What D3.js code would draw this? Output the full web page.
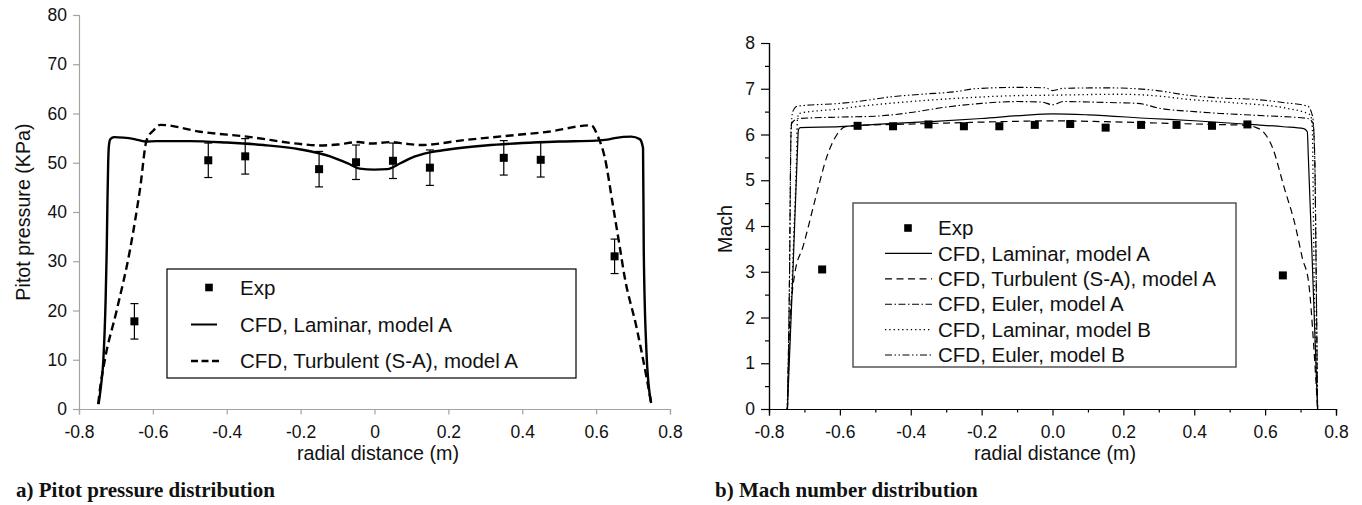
<!DOCTYPE html>
<html>
<head>
<meta charset="utf-8">
<script src="https://cdn.jsdelivr.net/npm/d3@7"></script>
<style>
  body { margin: 0; background: #fff; }
  svg text { font-family: "Liberation Sans", Arial, sans-serif; fill: #111; }
  svg text.caption { font-family: "Liberation Serif", "Times New Roman", serif; font-weight: bold; }
</style>
</head>
<body>
<svg id="chart" width="1362" height="505"></svg>
<script>
// ---- data ----
const xTicks = [-0.8, -0.6, -0.4, -0.2, 0, 0.2, 0.4, 0.6, 0.8]
const pitotTicks = [0, 10, 20, 30, 40, 50, 60, 70, 80]
const machTicks = [0, 1, 2, 3, 4, 5, 6, 7, 8]

// a) pitot pressure (KPa)
const pitotExpX = [-0.65, -0.45, -0.35, -0.15, -0.05, 0.05, 0.15, 0.35, 0.45, 0.65]
const pitotExpY = [17.8, 50.5, 51.3, 48.7, 50.1, 50.4, 49.0, 51.0, 50.6, 31.0]
const pitotExpErr = [3.6, 3.5, 3.6, 3.6, 3.5, 3.6, 3.6, 3.5, 3.5, 3.5]

const pitotLaminar = [
  [-0.747, 1], [-0.74, 5], [-0.734, 10], [-0.728, 22], [-0.725, 32], [-0.723, 42],
  [-0.721, 50], [-0.719, 53.5], [-0.715, 54.8], [-0.705, 55.2], [-0.68, 55.1],
  [-0.65, 54.8], [-0.62, 54.3], [-0.59, 54.4], [-0.5, 54.4], [-0.4, 54.1],
  [-0.3, 53.6], [-0.2, 52.7], [-0.12, 51.3], [-0.07, 49.8], [-0.04, 48.8],
  [0.0, 48.6], [0.035, 48.7], [0.07, 49.9], [0.1, 51.0], [0.15, 52.1],
  [0.2, 52.7], [0.3, 53.5], [0.4, 54.0], [0.5, 54.3], [0.6, 54.5], [0.63, 54.7],
  [0.65, 55.0], [0.695, 55.3], [0.718, 54.8], [0.727, 53.0], [0.729, 32],
  [0.736, 12], [0.742, 5], [0.749, 1.2]
]
const pitotTurbulent = [
  [-0.748, 1], [-0.745, 3], [-0.73, 10], [-0.698, 20], [-0.662, 32.3],
  [-0.634, 45.1], [-0.617, 54.6], [-0.598, 56.6], [-0.58, 57.7], [-0.472, 56.3],
  [-0.345, 55.3], [-0.2, 53.8], [-0.146, 53.5], [-0.1, 53.7], [-0.045, 54.2],
  [-0.01, 53.9], [0.044, 54.2], [0.08, 53.9], [0.125, 53.6], [0.242, 54.6],
  [0.35, 55.4], [0.47, 56.3], [0.587, 57.6], [0.605, 55.3], [0.623, 51.2],
  [0.646, 41.1], [0.664, 32.9], [0.677, 26.9], [0.709, 16.7], [0.736, 6.6],
  [0.749, 1.2]
]

// b) Mach number
const machExpX = [-0.65, -0.55, -0.45, -0.35, -0.25, -0.15, -0.05, 0.05, 0.15, 0.25, 0.35, 0.45, 0.55, 0.65]
const machExpY = [3.05, 6.19, 6.18, 6.22, 6.18, 6.18, 6.21, 6.23, 6.15, 6.21, 6.21, 6.19, 6.22, 2.92]

const machLaminarA = [
  [-0.748, 0], [-0.732, 3.1], [-0.72, 5.6], [-0.717, 6.1], [-0.712, 6.15],
  [-0.6, 6.17], [-0.5, 6.22], [-0.35, 6.28], [-0.2, 6.35], [-0.08, 6.42],
  [0.0, 6.45], [0.1, 6.43], [0.276, 6.35], [0.4, 6.3], [0.559, 6.22],
  [0.652, 6.17], [0.709, 6.13], [0.719, 6.06], [0.722, 5.5], [0.735, 2.8], [0.748, 0]
]
const machTurbulentA = [
  [-0.748, 0], [-0.743, 1.6], [-0.735, 2.5], [-0.727, 2.97], [-0.704, 3.55],
  [-0.665, 4.72], [-0.637, 5.51], [-0.609, 5.99], [-0.585, 6.17], [-0.55, 6.2],
  [-0.45, 6.22], [-0.3, 6.25], [-0.15, 6.28], [0.0, 6.3], [0.15, 6.28],
  [0.3, 6.25], [0.45, 6.22], [0.55, 6.2], [0.575, 6.15], [0.592, 6.08],
  [0.62, 5.73], [0.653, 4.86], [0.686, 3.98], [0.705, 3.3], [0.723, 2.75],
  [0.737, 1.4], [0.748, 0]
]
const machEulerA = [
  [-0.748, 0], [-0.742, 3.0], [-0.739, 5.5], [-0.737, 6.22], [-0.73, 6.3],
  [-0.715, 6.35], [-0.6, 6.38], [-0.5, 6.4], [-0.4, 6.48], [-0.3, 6.6],
  [-0.2, 6.68], [-0.1, 6.72], [-0.03, 6.71], [0.0, 6.65], [0.03, 6.72],
  [0.15, 6.7], [0.24, 6.68], [0.305, 6.57], [0.4, 6.5], [0.474, 6.46],
  [0.6, 6.41], [0.72, 6.35], [0.735, 6.25], [0.74, 5.5], [0.744, 3], [0.748, 0]
]
const machLaminarB = [
  [-0.749, 0], [-0.74, 1.8], [-0.73, 3.8], [-0.722, 5.6], [-0.72, 6.3],
  [-0.716, 6.46], [-0.6, 6.56], [-0.55, 6.61], [-0.4, 6.72], [-0.25, 6.8],
  [-0.1, 6.85], [0.0, 6.86], [0.19, 6.88], [0.3, 6.84], [0.38, 6.77],
  [0.5, 6.7], [0.663, 6.57], [0.728, 6.43], [0.733, 6.17], [0.738, 3], [0.749, 0]
]
const machEulerB = [
  [-0.748, 0], [-0.742, 3], [-0.738, 6.0], [-0.733, 6.5], [-0.72, 6.62],
  [-0.6, 6.68], [-0.55, 6.72], [-0.46, 6.82], [-0.37, 6.88], [-0.27, 6.94],
  [-0.22, 7.0], [-0.1, 7.03], [-0.02, 7.02], [0.0, 6.96], [0.03, 7.01],
  [0.15, 7.02], [0.285, 6.97], [0.38, 6.86], [0.47, 6.8], [0.567, 6.77],
  [0.65, 6.7], [0.72, 6.62], [0.734, 6.39], [0.74, 5.5], [0.744, 3], [0.748, 0]
]

const pitotLegend = ["Exp", "CFD, Laminar, model A", "CFD, Turbulent (S-A), model A"]
const machLegend = ["Exp", "CFD, Laminar, model A", "CFD, Turbulent (S-A), model A",
  "CFD, Euler, model A", "CFD, Laminar, model B", "CFD, Euler, model B"]

// ---- drawing ----
const DASH = {
  PITOT_TURB: "8,4.5",
  TURB: "7,4.5",
  EULER_A: "7,2.5,1.5,2.5",
  LAMINAR_B: "1.3,3",
  EULER_B: "7,2.5,1.5,2.5,1.5,2.5"
}
const TICK_FONT = "17.5px", TITLE_FONT = "19.7px", LEGEND_FONT = "20.5px"

const svg = d3.select("#chart")
const fmtA = d => String(+d.toFixed(1))
const fmtB = d => d.toFixed(1)

function styleAxis(g, color) {
  g.select(".domain").attr("stroke", color).attr("stroke-width", 1.2)
  g.selectAll(".tick line").attr("stroke", color).attr("stroke-width", 1.2)
  g.selectAll(".tick text").style("font-size", TICK_FONT)
}

function drawSquares(g, xs, ys, x, y, size) {
  g.selectAll(null)
    .data(xs.map((d, i) => [d, ys[i]]))
    .enter().append("rect")
    .attr("x", d => x(d[0]) - size / 2)
    .attr("y", d => y(d[1]) - size / 2)
    .attr("width", size)
    .attr("height", size)
    .attr("fill", "#000")
}

// ============ a) Pitot pressure ============
const xA = d3.scaleLinear().domain([-0.8, 0.8]).range([79, 670])
const yA = d3.scaleLinear().domain([0, 80]).range([409, 15])
const gA = svg.append("g")

gA.append("g")
  .attr("transform", "translate(0,409)")
  .call(d3.axisBottom(xA).tickValues(xTicks).tickFormat(fmtA).tickSizeOuter(0).tickSize(5.5).tickPadding(11.5))
  .call(g => styleAxis(g, "#a3a3a3"))

gA.append("g")
  .attr("transform", "translate(79,0)")
  .call(d3.axisLeft(yA).tickValues(pitotTicks).tickSizeOuter(0).tickSize(6).tickPadding(6))
  .call(g => styleAxis(g, "#a3a3a3"))

const lineA = d3.line().x(d => xA(d[0])).y(d => yA(d[1])).curve(d3.curveMonotoneX)

gA.append("path").datum(pitotLaminar)
  .attr("d", lineA).attr("fill", "none").attr("stroke", "#000").attr("stroke-width", 2.4)
gA.append("path").datum(pitotTurbulent)
  .attr("d", lineA).attr("fill", "none").attr("stroke", "#000").attr("stroke-width", 2.4)
  .attr("stroke-dasharray", DASH.PITOT_TURB)

// error bars
const errA = gA.append("g").attr("stroke", "#000").attr("stroke-width", 1.2)
pitotExpX.forEach((xv, i) => {
  const px = xA(xv), lo = yA(pitotExpY[i] - pitotExpErr[i]), hi = yA(pitotExpY[i] + pitotExpErr[i])
  errA.append("line").attr("x1", px).attr("x2", px).attr("y1", lo).attr("y2", hi)
  errA.append("line").attr("x1", px - 4).attr("x2", px + 4).attr("y1", lo).attr("y2", lo)
  errA.append("line").attr("x1", px - 4).attr("x2", px + 4).attr("y1", hi).attr("y2", hi)
})
drawSquares(gA, pitotExpX, pitotExpY, xA, yA, 8)

gA.append("text")
  .attr("x", 378).attr("y", 460).attr("text-anchor", "middle")
  .style("font-size", TITLE_FONT).text("radial distance (m)")
gA.append("text")
  .attr("transform", "translate(30,212) rotate(-90)").attr("text-anchor", "middle")
  .style("font-size", TITLE_FONT).text("Pitot pressure (KPa)")
gA.append("text").attr("class", "caption")
  .attr("x", 16).attr("y", 497).style("font-size", "21px")
  .text("a) Pitot pressure distribution")

// legend a
const legA = gA.append("g")
legA.append("rect").attr("x", 167).attr("y", 269).attr("width", 409).attr("height", 109)
  .attr("fill", "#fff").attr("stroke", "#000").attr("stroke-width", 1.2)
const rowsA = [287.5, 324.5, 361]
legA.append("rect").attr("x", 209 - 3.8).attr("y", rowsA[0] - 3.8).attr("width", 7.6).attr("height", 7.6)
legA.append("line").attr("x1", 191).attr("x2", 217).attr("y1", rowsA[1]).attr("y2", rowsA[1])
  .attr("stroke", "#000").attr("stroke-width", 2)
legA.append("line").attr("x1", 191).attr("x2", 219).attr("y1", rowsA[2]).attr("y2", rowsA[2])
  .attr("stroke", "#000").attr("stroke-width", 2.4).attr("stroke-dasharray", "7,3.5")
pitotLegend.forEach((t, i) => {
  legA.append("text").attr("x", 240).attr("y", rowsA[i] + 7.2)
    .style("font-size", LEGEND_FONT).text(t)
})

// ============ b) Mach number ============
const xB = d3.scaleLinear().domain([-0.8, 0.8]).range([769, 1336])
const yB = d3.scaleLinear().domain([0, 8]).range([409, 43])
const gB = svg.append("g")

gB.append("g")
  .attr("transform", "translate(0,409)")
  .call(d3.axisBottom(xB).tickValues(d3.range(-0.7, 0.75, 0.2)).tickFormat("").tickSizeOuter(0).tickSize(3.5))
  .call(g => styleAxis(g, "#000"))
gB.append("g")
  .attr("transform", "translate(0,409)")
  .call(d3.axisBottom(xB).tickValues(xTicks).tickFormat(fmtB).tickSizeOuter(0).tickSize(6.5).tickPadding(10.5))
  .call(g => styleAxis(g, "#000"))

gB.append("g")
  .attr("transform", "translate(769,0)")
  .call(d3.axisLeft(yB).tickValues(d3.range(0.5, 8, 1)).tickFormat("").tickSizeOuter(0).tickSize(4))
  .call(g => styleAxis(g, "#000"))
gB.append("g")
  .attr("transform", "translate(769,0)")
  .call(d3.axisLeft(yB).tickValues(machTicks).tickSizeOuter(0).tickSize(8).tickPadding(6))
  .call(g => styleAxis(g, "#000"))

const lineB = d3.line().x(d => xB(d[0])).y(d => yB(d[1])).curve(d3.curveMonotoneX)
const machSeries = [
  { data: machLaminarA, dash: null, w: 1.2 },
  { data: machTurbulentA, dash: DASH.TURB, w: 1.2 },
  { data: machEulerA, dash: DASH.EULER_A, w: 1.1 },
  { data: machLaminarB, dash: DASH.LAMINAR_B, w: 1.3 },
  { data: machEulerB, dash: DASH.EULER_B, w: 1.1 }
]
gB.selectAll(".mline")
  .data(machSeries)
  .enter().append("path")
  .attr("class", "mline")
  .attr("d", d => lineB(d.data))
  .attr("fill", "none")
  .attr("stroke", "#000")
  .attr("stroke-width", d => d.w)
  .attr("stroke-dasharray", d => d.dash)

drawSquares(gB, machExpX, machExpY, xB, yB, 8)

gB.append("text")
  .attr("x", 1055).attr("y", 460).attr("text-anchor", "middle")
  .style("font-size", TITLE_FONT).text("radial distance (m)")
gB.append("text")
  .attr("transform", "translate(732,229) rotate(-90)").attr("text-anchor", "middle")
  .style("font-size", TITLE_FONT).text("Mach")
gB.append("text").attr("class", "caption")
  .attr("x", 715).attr("y", 497).style("font-size", "21px")
  .text("b) Mach number distribution")

// legend b
const legB = gB.append("g")
legB.append("rect").attr("x", 853).attr("y", 203).attr("width", 383).attr("height", 164)
  .attr("fill", "#fff").attr("stroke", "#555").attr("stroke-width", 1.5)
const rowsB = [228, 253.4, 278.8, 304.2, 329.6, 355]
legB.append("rect").attr("x", 908 - 3.8).attr("y", rowsB[0] - 3.8).attr("width", 7.6).attr("height", 7.6)
machSeries.forEach((s, i) => {
  legB.append("line").attr("x1", 885).attr("x2", 932)
    .attr("y1", rowsB[i + 1]).attr("y2", rowsB[i + 1])
    .attr("stroke", "#000").attr("stroke-width", s.w)
    .attr("stroke-dasharray", s.dash)
})
machLegend.forEach((t, i) => {
  legB.append("text").attr("x", 938).attr("y", rowsB[i] + 7.2)
    .style("font-size", LEGEND_FONT).text(t)
})
</script>
</body>
</html>
